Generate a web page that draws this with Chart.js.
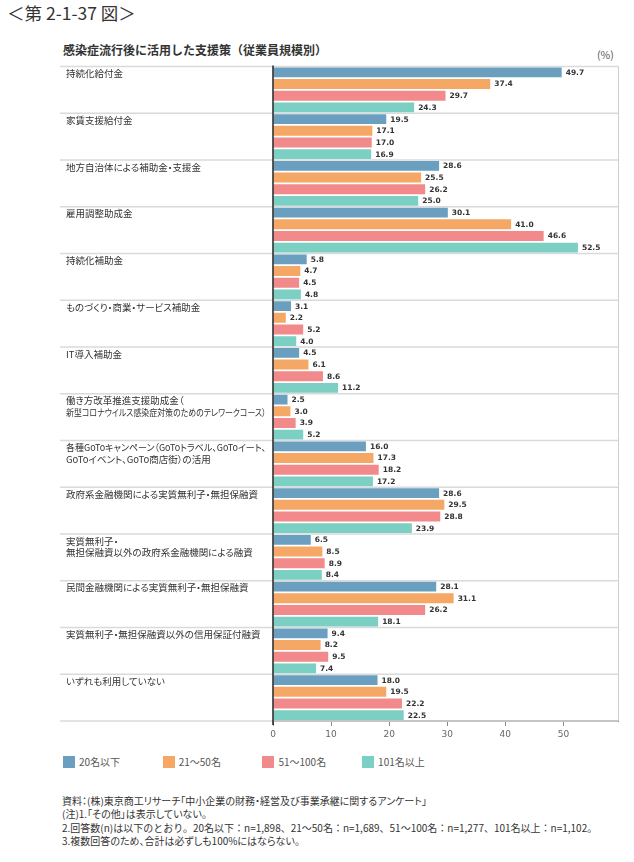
<!DOCTYPE html>
<html><head><meta charset="utf-8">
<script src="https://cdn.jsdelivr.net/npm/chart.js@4"></script>
<style>
html,body{margin:0;padding:0;background:#fff;}
body{width:634px;height:862px;position:relative;overflow:hidden;font-family:"Noto Sans CJK JP","Noto Sans",sans-serif;color:#333;}
#wrap{position:absolute;left:0;top:0;width:634px;height:750px;}
.abs{position:absolute;white-space:nowrap;}
#title{left:7px;top:1px;font-size:17.5px;line-height:24px;color:#333;}
#sub{left:63px;top:42px;font-size:12px;line-height:16px;font-weight:bold;color:#333;}
#unit{left:597px;top:48px;font-size:10.5px;line-height:14px;color:#555;}
.cat{position:absolute;left:66px;font-size:9.5px;line-height:11.5px;color:#333;white-space:nowrap;font-feature-settings:"palt";}
.cat span{display:block;transform-origin:0 50%;width:max-content;}
.lg{position:absolute;top:756px;height:12px;}
.lg i{position:absolute;left:0;top:0;width:12px;height:12px;}
.lg span{position:absolute;left:16px;top:-2px;font-size:10px;line-height:16px;color:#555;white-space:nowrap;}
#notes{left:62px;top:794px;font-size:10px;line-height:13.3px;color:#333;}
#notes .p{font-feature-settings:"palt";}
</style></head>
<body>
<div id="title" class="abs">＜第 2-1-37 図＞</div>
<div id="sub" class="abs">感染症流行後に活用した支援策（従業員規模別）</div>
<div id="unit" class="abs">(%)</div>
<div id="wrap"><canvas id="c" width="634" height="750"></canvas></div>
<div id="legend"></div>
<div id="notes" class="abs"><span class="p">資料：(株)東京商工リサーチ「中小企業の財務・経営及び事業承継に関するアンケート」</span><br><span class="p">(注)1.「その他」は表示していない。</span><br><span>2.回答数(n)は以下のとおり。20名以下：n=1,898、21～50名：n=1,689、51～100名：n=1,277、101名以上：n=1,102。</span><br><span class="p">3.複数回答のため、合計は必ずしも100%にはならない。</span></div>
<script>
const categories = [
  ['持続化給付金'],
  ['家賃支援給付金'],
  ['地方自治体による補助金・支援金'],
  ['雇用調整助成金'],
  ['持続化補助金'],
  ['ものづくり・商業・サービス補助金'],
  ['IT導入補助金'],
  ['働き方改革推進支援助成金（','新型コロナウイルス感染症対策のためのテレワークコース）'],
  ['各種GoToキャンペーン（GoToトラベル、GoToイート、','GoToイベント、GoTo商店街）の活用'],
  ['政府系金融機関による実質無利子・無担保融資'],
  ['実質無利子・','無担保融資以外の政府系金融機関による融資'],
  ['民間金融機関による実質無利子・無担保融資'],
  ['実質無利子・無担保融資以外の信用保証付融資'],
  ['いずれも利用していない']
];
const seriesNames = ['20名以下','21～50名','51～100名','101名以上'];
const s20 =    [49.7,19.5,28.6,30.1,5.8,3.1,4.5,2.5,16.0,28.6,6.5,28.1,9.4,18.0];
const s21_50 = [37.4,17.1,25.5,41.0,4.7,2.2,6.1,3.0,17.3,29.5,8.5,31.1,8.2,19.5];
const s51_100 =[29.7,17.0,26.2,46.6,4.5,5.2,8.6,3.9,18.2,28.8,8.9,26.2,9.5,22.2];
const s101 =   [24.3,16.9,25.0,52.5,4.8,4.0,11.2,5.2,17.2,23.9,8.4,18.1,7.4,22.5];
const xTicks = [0,10,20,30,40,50];

const colors = ['#6b9fc0','#f5a865','#f28a8b','#7bcfc3'];
const allSeries = [s20,s21_50,s51_100,s101];

let labelsBuilt = false;
const deco = {
  id:'deco',
  beforeDatasetsDraw(chart){
    const {ctx, chartArea:a, scales:{y}} = chart;
    const band = y.getPixelForValue(1) - y.getPixelForValue(0);
    ctx.save();
    ctx.strokeStyle = '#dadada'; ctx.lineWidth = 1.5;
    for(let i=0;i<=categories.length;i++){
      const yy = y.getPixelForValue(i) - band/2;
      ctx.beginPath(); ctx.moveTo(60, yy); ctx.lineTo(a.right, yy); ctx.stroke();
    }
    ctx.strokeStyle = '#cfcfcf'; ctx.lineWidth = 1;
    ctx.beginPath(); ctx.moveTo(a.right+0.5, a.top); ctx.lineTo(a.right+0.5, a.bottom); ctx.stroke();
    ctx.restore();
  },
  afterDatasetsDraw(chart){
    const {ctx, chartArea:a} = chart;
    ctx.save();
    ctx.strokeStyle = '#222'; ctx.lineWidth = 1.5;
    ctx.beginPath(); ctx.moveTo(a.left, a.top-1); ctx.lineTo(a.left, a.bottom+4); ctx.stroke();
    ctx.font = 'bold 7.5px "DejaVu Sans"';
    ctx.fillStyle = '#333'; ctx.textBaseline = 'middle'; ctx.textAlign = 'left';
    chart.data.datasets.forEach((ds, di) => {
      chart.getDatasetMeta(di).data.forEach((el, j) => {
        ctx.fillText(ds.data[j].toFixed(1), el.x + 4, el.y + 0.5);
      });
    });
    ctx.restore();
  },
  afterRender(chart){
    if (labelsBuilt) return; labelsBuilt = true;
    const y = chart.scales.y;
    const band = y.getPixelForValue(1) - y.getPixelForValue(0);
    categories.forEach((lines, i) => {
      const d = document.createElement('div');
      d.className = 'cat';
      d.style.top = (y.getPixelForValue(i) - band/2 + 1.5) + 'px';
      lines.forEach(t => {
        const s = document.createElement('span');
        s.textContent = t;
        d.appendChild(s);
      });
      document.body.appendChild(d);
      d.querySelectorAll('span').forEach(s => {
        const w = s.getBoundingClientRect().width;
        if (w > 200) s.style.transform = 'scaleX(' + (200 / w) + ')';
      });
    });
  }
};

const lg = document.getElementById('legend');
seriesNames.forEach((n, i) => {
  const d = document.createElement('div');
  d.className = 'lg';
  d.style.left = (63 + i*99.7) + 'px';
  d.innerHTML = '<i style="background:'+colors[i]+'"></i><span>'+n+'</span>';
  lg.appendChild(d);
});

new Chart(document.getElementById('c'), {
  type:'bar',
  data:{
    labels: categories.map(c => c.join('')),
    datasets: allSeries.map((d,i) => ({label:seriesNames[i], data:d, backgroundColor:colors[i], borderWidth:0, barPercentage:0.85, categoryPercentage:1.0}))
  },
  options:{
    indexAxis:'y', responsive:false, animation:false, devicePixelRatio:1,
    layout:{padding:{top:66.5,left:273,right:16,bottom:0}},
    plugins:{legend:{display:false}, tooltip:{enabled:false}},
    scales:{
      y:{display:false},
      x:{
        min:0, max:59.4,
        afterBuildTicks: s => { s.ticks = xTicks.map(v => ({value:v})); },
        afterFit: s => { s.height = 29; },
        grid:{drawOnChartArea:false, drawTicks:true, tickLength:5, color:'#888', lineWidth:1},
        border:{display:true, color:'#888', width:2},
        ticks:{font:{family:'DejaVu Sans', size:9}, color:'#666', padding:3, maxRotation:0}
      }
    }
  },
  plugins:[deco]
});
</script>
</body></html>
